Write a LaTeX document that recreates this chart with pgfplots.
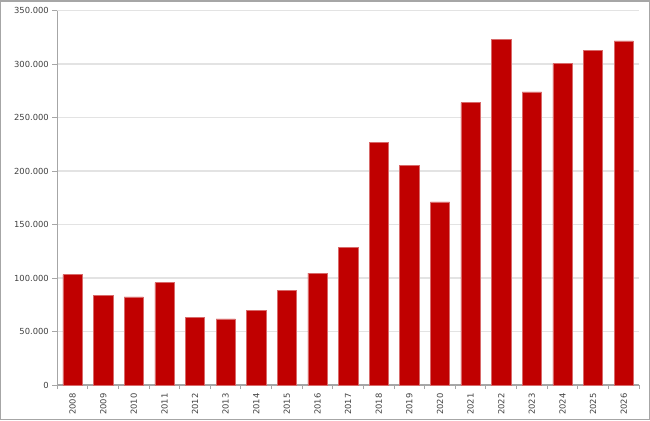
\documentclass[border=0pt]{standalone}
\usepackage{pgfplots}
\pgfplotsset{compat=1.18}
\usepackage{fontspec}
\setmainfont{DejaVu Sans}
\definecolor{barred}{HTML}{C00000}
\definecolor{baredge}{HTML}{D86A6A}
\definecolor{axgray}{HTML}{A6A6A6}
\definecolor{gridgray}{HTML}{E3E3E3}
\definecolor{txt}{HTML}{404040}

\pgfplotstableread{
idx year value
0 2008 103300
1 2009 84000
2 2010 82400
3 2011 95800
4 2012 63000
5 2013 61800
6 2014 69900
7 2015 88300
8 2016 104600
9 2017 128900
10 2018 226600
11 2019 205300
12 2020 171300
13 2021 264000
14 2022 323000
15 2023 274000
16 2024 300600
17 2025 313000
18 2026 321800
}\sales

\begin{document}
\begin{tikzpicture}[x=1bp,y=1bp]
\begin{axis}[
    at={(0,0)}, anchor=south west,
    scale only axis,
    width=581.7bp, height=374.3bp,
    xmin=-0.5, xmax=18.5,
    ymin=0, ymax=350000,
    scaled y ticks=false,
    axis x line*=bottom, axis y line*=left,
    axis line style={axgray, line width=1.2bp},
    xtick=data,
    xticklabels={2008,2009,2010,2011,2012,2013,2014,2015,2016,2017,2018,2019,2020,2021,2022,2023,2024,2025,2026},
    x tick label style={rotate=90, anchor=east, font=\fontsize{8.4}{10}\selectfont, text=txt},
    major x tick style={draw=none},
    minor xtick={-0.5,0.5,...,18.5},
    minor tick length=4bp,
    minor x tick style={axgray, line width=1bp},
    ytick={0,50000,...,350000},
    yticklabels={0,50.000,100.000,150.000,200.000,250.000,300.000,350.000},
    y tick label style={font=\fontsize{8.4}{10}\selectfont, text=txt},
    major tick length=5bp,
    tick align=outside,
    major y tick style={axgray, line width=1bp},
    ymajorgrids=true,
    major grid style={gridgray, line width=1.4bp},
    ybar, bar width=19.3bp,
    clip=false,
]
\addplot[fill=barred, draw=baredge, line width=0.5bp] table[x=idx, y=value] {\sales};
\end{axis}
\pgfresetboundingbox
\useasboundingbox (-57.3,-35) rectangle (592.7,385);
\draw[axgray, line width=1.5bp] (-56.55,-34.25) rectangle (591.95,384.25);
\end{tikzpicture}
\end{document}
